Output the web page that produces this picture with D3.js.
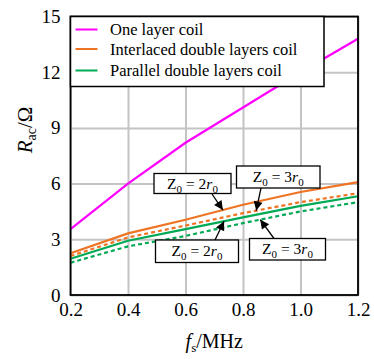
<!DOCTYPE html>
<html lang="en">
<head>
<meta charset="utf-8">
<title>Rac vs frequency</title>
<script src="https://cdn.jsdelivr.net/npm/d3@7/dist/d3.min.js"></script>
<style>
  body { margin: 0; background: #fff; }
  svg text { font-family: "Liberation Serif", "DejaVu Serif", serif; }
</style>
</head>
<body>
<svg width="374" height="359"></svg>
<script>
// data
var freq = [0.2, 0.4, 0.6, 0.8, 1.0, 1.2];
var oneLayer = [3.55, 6.0, 8.2, 10.1, 12.0, 13.8];
var interlaced2 = [2.25, 3.32, 4.05, 4.86, 5.55, 6.08];
var interlaced3 = [2.1, 3.1, 3.74, 4.41, 5.0, 5.48];
var parallel2 = [1.95, 2.92, 3.55, 4.18, 4.8, 5.32];
var parallel3 = [1.74, 2.62, 3.18, 3.87, 4.5, 5.0];
var xTicks = [0.2, 0.4, 0.6, 0.8, 1.0, 1.2];
var yTicks = [0, 3, 6, 9, 12, 15];
var legendNames = ["One layer coil", "Interlaced double layers coil", "Parallel double layers coil"];

var magenta = "#ff00ff", orange = "#ee7424", green = "#00aa55";
var serif = "Liberation Serif, DejaVu Serif, serif";

var svg = d3.select("svg"),
    mLeft = 70.5, mTop = 16.5,
    width = 287.5, height = 278.5;

var x = d3.scaleLinear().domain([0.2, 1.2]).range([0, width]);
var y = d3.scaleLinear().domain([0, 15]).range([height, 0]);

var g = svg.append("g").attr("transform", "translate(" + mLeft + "," + mTop + ")");

// grid
g.append("g")
    .attr("transform", "translate(0," + height + ")")
    .call(d3.axisBottom(x).tickValues(xTicks).tickSize(-height).tickFormat(""))
    .call(function(a) {
        a.select(".domain").remove();
        a.selectAll("line").attr("stroke", "#c4c4c4").attr("stroke-width", 2);
    });
g.append("g")
    .call(d3.axisLeft(y).tickValues(yTicks).tickSize(-width).tickFormat(""))
    .call(function(a) {
        a.select(".domain").remove();
        a.selectAll("line").attr("stroke", "#c4c4c4").attr("stroke-width", 2);
    });

// tick labels
g.append("g")
    .attr("transform", "translate(0," + height + ")")
    .call(d3.axisBottom(x).tickValues(xTicks).tickSize(0).tickPadding(8).tickFormat(d3.format(".1f")))
    .attr("font-family", serif).attr("font-size", 19)
    .call(function(a) {
        a.select(".domain").remove();
        a.selectAll("text").attr("fill", "#000");
    });
g.append("g")
    .call(d3.axisLeft(y).tickValues(yTicks).tickSize(0).tickPadding(10).tickFormat(d3.format("d")))
    .attr("font-family", serif).attr("font-size", 19)
    .call(function(a) {
        a.select(".domain").remove();
        a.selectAll("text").attr("fill", "#000");
    });

// series
var line = d3.line().x(function(d, i) { return x(freq[i]); }).y(function(d) { return y(d); });
var series = [
    { v: oneLayer, c: magenta, dash: null },
    { v: interlaced2, c: orange, dash: null },
    { v: interlaced3, c: orange, dash: "4,3" },
    { v: parallel2, c: green, dash: null },
    { v: parallel3, c: green, dash: "4,3" }
];
g.selectAll(".series").data(series).enter().append("path")
    .attr("class", "series")
    .attr("d", function(d) { return line(d.v); })
    .attr("fill", "none")
    .attr("stroke", function(d) { return d.c; })
    .attr("stroke-width", 2.2)
    .attr("stroke-dasharray", function(d) { return d.dash; });

// frame
g.append("rect").attr("width", width).attr("height", height)
    .attr("fill", "none").attr("stroke", "#000").attr("stroke-width", 1.8);

// legend
var leg = g.append("g");
leg.append("rect").attr("x", 0).attr("y", 0).attr("width", 253.5).attr("height", 70)
    .attr("fill", "#fff").attr("stroke", "#000").attr("stroke-width", 1.5);
var legColors = [magenta, orange, green];
var legY = [13, 32.5, 54];
legendNames.forEach(function(name, i) {
    leg.append("line").attr("x1", 5).attr("x2", 27).attr("y1", legY[i]).attr("y2", legY[i])
        .attr("stroke", legColors[i]).attr("stroke-width", 2);
    leg.append("text").attr("x", 39.5).attr("y", legY[i] + 5.5)
        .attr("font-family", serif).attr("font-size", 16.5).text(name);
});

// annotations: boxes with arrows pointing at the curves
function valueAt(arr, f) {
    var i = Math.min(freq.length - 2, Math.floor((f - freq[0]) / 0.2));
    var t = (f - freq[i]) / (freq[i + 1] - freq[i]);
    return arr[i] + t * (arr[i + 1] - arr[i]);
}
var notes = [
    { n: "2", bx: 154, by: 173.5, bw: 77, bh: 20, sx: 212, sy: 194, f: 0.73, arr: interlaced2 },
    { n: "3", bx: 236.5, by: 166, bw: 83.5, bh: 22, sx: 261, sy: 188, f: 0.846, arr: interlaced3 },
    { n: "2", bx: 155.5, by: 240, bw: 83, bh: 22.5, sx: 215, sy: 240, f: 0.734, arr: parallel2 },
    { n: "3", bx: 249.5, by: 238.5, bw: 76, bh: 21.5, sx: 274, sy: 238.5, f: 0.86, arr: parallel3 }
];

var defs = svg.append("defs");
defs.append("marker").attr("id", "head")
    .attr("viewBox", "0 0 10 10").attr("refX", 10).attr("refY", 5)
    .attr("markerWidth", 12).attr("markerHeight", 9).attr("markerUnits", "userSpaceOnUse")
    .attr("orient", "auto")
    .append("path").attr("d", "M0,0 L10,5 L0,10 z").attr("fill", "#000");

notes.forEach(function(nt) {
    var tx = mLeft + x(nt.f), ty = mTop + y(valueAt(nt.arr, nt.f));
    svg.append("line").attr("x1", nt.sx).attr("y1", nt.sy).attr("x2", tx).attr("y2", ty)
        .attr("stroke", "#000").attr("stroke-width", 1.3).attr("marker-end", "url(#head)");
    svg.append("rect").attr("x", nt.bx).attr("y", nt.by).attr("width", nt.bw).attr("height", nt.bh)
        .attr("fill", "#fff").attr("stroke", "#000").attr("stroke-width", 1.3);
    var t = svg.append("text").attr("x", nt.bx + nt.bw / 2).attr("y", nt.by + nt.bh / 2 + 5)
        .attr("text-anchor", "middle").attr("font-family", serif).attr("font-size", 15.5);
    t.append("tspan").text("Z");
    t.append("tspan").attr("font-size", 11).attr("dy", 4).text("0");
    t.append("tspan").attr("dy", -4).text(" = " + nt.n);
    t.append("tspan").attr("font-style", "italic").text("r");
    t.append("tspan").attr("font-size", 11).attr("dy", 4).text("0");
});

// axis titles
var xl = svg.append("text").attr("x", mLeft + width / 2).attr("y", 348)
    .attr("text-anchor", "middle").attr("font-family", serif).attr("font-size", 20);
xl.append("tspan").attr("font-style", "italic").text("f");
xl.append("tspan").attr("font-size", 13).attr("dy", 4).text("s");
xl.append("tspan").attr("dy", -4).text("/MHz");

var yl = svg.append("text").attr("transform", "translate(32," + 130 + ") rotate(-90)")
    .attr("text-anchor", "middle").attr("font-family", serif).attr("font-size", 21);
yl.append("tspan").attr("font-style", "italic").text("R");
yl.append("tspan").attr("font-size", 14).attr("dy", 4).text("ac");
yl.append("tspan").attr("dy", -4).text("/Ω");
</script>
</body>
</html>
